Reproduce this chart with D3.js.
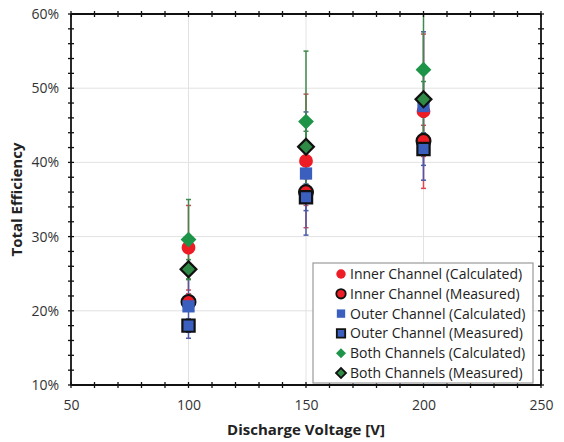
<!DOCTYPE html>
<html>
<head>
<meta charset="utf-8">
<script src="https://cdn.jsdelivr.net/npm/d3@7"></script>
<style>
  html, body { margin: 0; padding: 0; background: #fff; }
  svg { display: block; }
  text { font-family: "Open Sans", "Noto Sans", sans-serif; }
</style>
</head>
<body>
<svg id="chart" width="564" height="442"></svg>
<script>
// Discharge voltages (V)
const voltages = [100, 150, 200];

// Efficiency values (%) per series
const innerCalc = [28.5, 40.2, 46.9];
const innerMeas = [21.2, 36.0, 42.9];
const outerCalc = [20.6, 38.5, 47.6];
const outerMeas = [18.0, 35.3, 41.8];
const bothCalc  = [29.6, 45.5, 52.5];
const bothMeas  = [25.6, 42.1, 48.5];

// Error bar half-widths (%)
const innerCalcErr = [5.7, 9.0, 10.4];
const innerMeasErr = [1.1, 1.8, 2.1];
const outerCalcErr = [4.3, 8.3, 10.0];
const outerMeasErr = [0.9, 1.8, 2.2];
const bothCalcErr  = [5.4, 9.5, 10.0];
const bothMeasErr  = [1.3, 2.1, 2.4];

const seriesNames = [
  "Inner Channel (Calculated)",
  "Inner Channel (Measured)",
  "Outer Channel (Calculated)",
  "Outer Channel (Measured)",
  "Both Channels (Calculated)",
  "Both Channels (Measured)"
];

const xTicks = [50, 100, 150, 200, 250];
const yTicks = [10, 20, 30, 40, 50, 60];

// Diamond = square turned by 45 degrees
const series = [
  { name: seriesNames[0], values: innerCalc, err: innerCalcErr, shape: d3.symbolCircle, rot: 0,  size: 150, lsize: 70, fill: "#ee1c25", stroke: null, errColor: "#e0474c" },
  { name: seriesNames[1], values: innerMeas, err: innerMeasErr, shape: d3.symbolCircle, rot: 0,  size: 150, lsize: 70, fill: "#ee1c25", stroke: "#111", errColor: "#e0474c" },
  { name: seriesNames[2], values: outerCalc, err: outerCalcErr, shape: d3.symbolSquare, rot: 0,  size: 150, lsize: 70, fill: "#3a5fbf", stroke: null, errColor: "#4a5aa8" },
  { name: seriesNames[3], values: outerMeas, err: outerMeasErr, shape: d3.symbolSquare, rot: 0,  size: 150, lsize: 70, fill: "#3a5fbf", stroke: "#111", errColor: "#4a5aa8" },
  { name: seriesNames[4], values: bothCalc,  err: bothCalcErr,  shape: d3.symbolSquare, rot: 45, size: 125, lsize: 50, fill: "#1e9448", stroke: null, errColor: "#3e8a4e" },
  { name: seriesNames[5], values: bothMeas,  err: bothMeasErr,  shape: d3.symbolSquare, rot: 45, size: 125, lsize: 50, fill: "#2f8a45", stroke: "#111", errColor: "#3e8a4e" }
];

const svg = d3.select("#chart");
const margin = { top: 14, right: 23, bottom: 57, left: 71 };
const W = 564, H = 442;
const iw = W - margin.left - margin.right;
const ih = H - margin.top - margin.bottom;

const x = d3.scaleLinear().domain([50, 250]).range([0, iw]);
const y = d3.scaleLinear().domain([10, 60]).range([ih, 0]);

const defs = svg.append("defs");
defs.append("clipPath").attr("id", "plotclip")
  .append("rect").attr("width", iw).attr("height", ih);

const g = svg.append("g").attr("transform", `translate(${margin.left},${margin.top})`);

// Gridlines
g.append("g").selectAll("line").data(xTicks.slice(1, -1)).join("line")
  .attr("x1", d => x(d)).attr("x2", d => x(d)).attr("y1", 0).attr("y2", ih)
  .attr("stroke", "#e2e2e2").attr("stroke-width", 1);
g.append("g").selectAll("line").data(yTicks.slice(1, -1)).join("line")
  .attr("x1", 0).attr("x2", iw).attr("y1", d => y(d)).attr("y2", d => y(d))
  .attr("stroke", "#e2e2e2").attr("stroke-width", 1);

// Error bars
const plot = g.append("g").attr("clip-path", "url(#plotclip)");
series.forEach(s => {
  const eb = plot.append("g").attr("stroke", s.errColor).attr("stroke-width", 1.5);
  s.values.forEach((v, i) => {
    const cx = x(voltages[i]);
    const lo = v - s.err[i], hi = v + s.err[i];
    eb.append("line").attr("x1", cx).attr("x2", cx).attr("y1", y(lo)).attr("y2", y(hi));
    [lo, hi].forEach(e => {
      eb.append("line").attr("x1", cx - 2.5).attr("x2", cx + 2.5).attr("y1", y(e)).attr("y2", y(e));
    });
  });
});

// Markers
series.forEach(s => {
  plot.append("g").selectAll("path").data(s.values).join("path")
    .attr("transform", (v, i) => `translate(${x(voltages[i])},${y(v)}) rotate(${s.rot})`)
    .attr("d", d3.symbol().type(s.shape).size(s.size))
    .attr("fill", s.fill)
    .attr("stroke", s.stroke || "none")
    .attr("stroke-width", s.stroke ? 2.2 : 0);
});

// Frame with ticks crossing the lines
const frame = g.append("g").attr("stroke", "#111").attr("stroke-width", 1.8);
frame.append("line").attr("x1", 0).attr("x2", iw).attr("y1", ih).attr("y2", ih);
frame.append("line").attr("x1", 0).attr("x2", iw).attr("y1", 0).attr("y2", 0);
frame.append("line").attr("x1", 0).attr("x2", 0).attr("y1", 0).attr("y2", ih);
frame.append("line").attr("x1", iw).attr("x2", iw).attr("y1", 0).attr("y2", ih);

const xMinor = d3.range(50, 251, 10);
const yMinor = d3.range(10, 61, 2);
const tk = g.append("g").attr("stroke", "#111").attr("stroke-width", 1.3);
xMinor.forEach(v => {
  tk.append("line").attr("x1", x(v)).attr("x2", x(v)).attr("y1", ih - 3).attr("y2", ih + 3);
  tk.append("line").attr("x1", x(v)).attr("x2", x(v)).attr("y1", -3).attr("y2", 3);
});
yMinor.forEach(v => {
  tk.append("line").attr("x1", -3).attr("x2", 3).attr("y1", y(v)).attr("y2", y(v));
  tk.append("line").attr("x1", iw - 3).attr("x2", iw + 3).attr("y1", y(v)).attr("y2", y(v));
});

// Tick labels via axes (lines hidden, frame drawn above)
const xAxis = g.append("g").attr("transform", `translate(0,${ih})`)
  .call(d3.axisBottom(x).tickValues(xTicks).tickSize(0).tickPadding(15));
const yAxis = g.append("g")
  .call(d3.axisLeft(y).tickValues(yTicks).tickSize(0).tickPadding(12).tickFormat(d => d + "%"));
[xAxis, yAxis].forEach(a => {
  a.select(".domain").remove();
  a.selectAll("text").attr("font-size", 14).attr("fill", "#333")
    .attr("font-family", "'Open Sans', sans-serif");
});

// Axis titles
svg.append("text")
  .attr("x", margin.left + iw / 2).attr("y", 435)
  .attr("text-anchor", "middle").attr("font-size", 15).attr("font-weight", "bold").attr("fill", "#222")
  .text("Discharge Voltage [V]");
svg.append("text")
  .attr("transform", `translate(22,${margin.top + ih / 2}) rotate(-90)`)
  .attr("text-anchor", "middle").attr("font-size", 15).attr("font-weight", "bold").attr("fill", "#222")
  .text("Total Efficiency");

// Legend
const lg = svg.append("g").attr("transform", "translate(313,263)");
lg.append("rect").attr("width", 220).attr("height", 120)
  .attr("fill", "#fff").attr("stroke", "#9a9a9a").attr("stroke-width", 1.2);
series.forEach((s, i) => {
  const row = lg.append("g").attr("transform", `translate(0,${11 + i * 19.8})`);
  row.append("path").attr("transform", `translate(28,0) rotate(${s.rot})`)
    .attr("d", d3.symbol().type(s.shape).size(s.lsize))
    .attr("fill", s.fill).attr("stroke", s.stroke || "none").attr("stroke-width", s.stroke ? 1.8 : 0);
  row.append("text").attr("x", 37).attr("y", 0).attr("dy", "0.35em")
    .attr("font-size", 14).attr("fill", "#222").text(s.name);
});
</script>
</body>
</html>
